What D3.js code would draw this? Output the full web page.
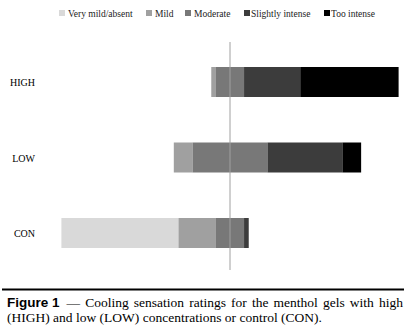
<!DOCTYPE html>
<html>
<head>
<meta charset="utf-8">
<script src="https://cdn.jsdelivr.net/npm/d3@7"></script>
<style>
  html, body { margin: 0; padding: 0; background: #fff; }
  svg { display: block; }
  .serif { font-family: "Liberation Serif", "Times New Roman", Times, serif; }
  .sansb { font-family: "Liberation Sans", Arial, Helvetica, sans-serif; font-weight: bold; }
</style>
</head>
<body>
<svg id="chart" width="413" height="334"></svg>
<script>
// ---- data (percent of responses) ----
const categories = ["HIGH", "LOW", "CON"];
const levels = ["Very mild/absent", "Mild", "Moderate", "Slightly intense", "Too intense"];
const veryMild = [0, 0, 62.5];
const mild = [2.5, 10, 20];
const moderate = [15, 40, 15];
const slightly = [30, 40, 2.5];
const tooIntense = [52.5, 10, 0];
const colors = ["#d9d9d9", "#a0a0a0", "#787878", "#3c3c3c", "#000000"];
const captionBold = "Figure 1";
const captionLine1 = "\u2014 Cooling sensation ratings for the menthol gels with high";
const captionLine2 = "(HIGH) and low (LOW) concentrations or control (CON).";

const series = [veryMild, mild, moderate, slightly, tooIntense];

const svg = d3.select("#chart");
const x = d3.scaleLinear().domain([-90, 90]).range([61.4, 398.6]);
const y = d3.scalePoint().domain(categories).range([82, 233]);
const barH = 30;

// build segments: centered on middle of "Moderate"
const segs = [];
categories.forEach((c, i) => {
  let start = -(series[0][i] + series[1][i] + series[2][i] / 2);
  series.forEach((s, k) => {
    const v = s[i];
    if (v > 0) segs.push({cat: c, k, x0: start, x1: start + v});
    start += v;
  });
});

svg.append("g").selectAll("rect").data(segs).join("rect")
  .attr("x", d => x(d.x0))
  .attr("width", d => x(d.x1) - x(d.x0))
  .attr("y", d => y(d.cat) - barH / 2)
  .attr("height", barH)
  .attr("fill", d => colors[d.k]);

// center line
svg.append("line")
  .attr("x1", x(0)).attr("x2", x(0))
  .attr("y1", 42).attr("y2", 270)
  .attr("stroke", "#a0a0a0").attr("stroke-width", 1);

// category labels
svg.append("g").selectAll("text").data(categories).join("text")
  .attr("class", "serif")
  .attr("x", 35)
  .attr("y", d => y(d) + 4)
  .attr("text-anchor", "end")
  .attr("font-size", 10)
  .attr("fill", "#000")
  .text(d => d);

// legend
const legendX = [59, 146, 185, 244, 324];
const lg = svg.append("g").selectAll("g").data(levels).join("g")
  .attr("transform", (d, i) => `translate(${legendX[i]},13)`);
lg.append("rect").attr("x", 0).attr("y", -3).attr("width", 6).attr("height", 6)
  .attr("fill", (d, i) => colors[i]);
lg.append("text").attr("class", "serif").attr("x", (d, i) => i >= 3 ? 7 : 9).attr("y", 3.5)
  .attr("font-size", 9.5)
  .attr("fill", "#222")
  .text(d => d);

// caption rule
svg.append("rect").attr("x", 2).attr("y", 288.5).attr("width", 402).attr("height", 2).attr("fill", "#000");

// caption text, line 1: bold label + justified serif text
const fb = svg.append("text").attr("class", "sansb").attr("x", 7).attr("y", 307)
  .attr("font-size", 13.5).attr("fill", "#000").text(captionBold);
const bEnd = 7 + fb.node().getComputedTextLength() + 7;
const t1 = svg.append("text").attr("class", "serif").attr("x", bEnd).attr("y", 307)
  .attr("font-size", 13.5).attr("fill", "#000").text(captionLine1);
const target = 403 - bEnd;
const w = t1.node().getComputedTextLength();
const spaces = (captionLine1.match(/ /g) || []).length;
t1.attr("word-spacing", (target - w) / spaces);

svg.append("text").attr("class", "serif").attr("x", 7).attr("y", 321.5)
  .attr("font-size", 13.5).attr("fill", "#000")
  .text(captionLine2);
</script>
</body>
</html>
